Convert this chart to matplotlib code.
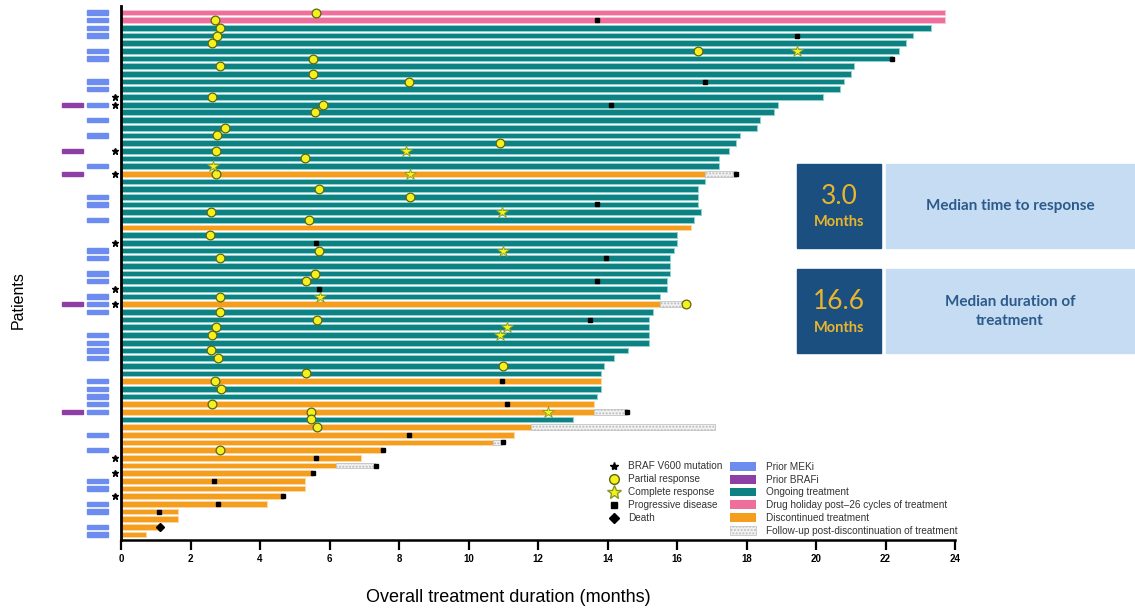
import numpy as np
import matplotlib
matplotlib.use("Agg")
import matplotlib.pyplot as plt
from matplotlib.patches import Rectangle, Patch
from matplotlib.lines import Line2D

plt.rcParams['font.family'] = ['Liberation Sans', 'DejaVu Sans']

# treatment duration per patient (months), top row first
durations = [23.7, 23.7, 23.3, 22.8, 22.6, 22.4, 22.2, 21.1, 21.0, 20.8,
             20.7, 20.2, 18.9, 18.8, 18.4, 18.3, 17.8, 17.7, 17.5, 17.2,
             17.2, 16.8, 16.8, 16.6, 16.6, 16.6, 16.7, 16.5, 16.4, 16.0,
             16.0, 15.9, 15.8, 15.8, 15.8, 15.7, 15.7, 15.5, 15.5, 15.3,
             15.2, 15.2, 15.2, 15.2, 14.6, 14.2, 13.9, 13.8, 13.8, 13.8,
             13.7, 13.6, 13.6, 13.0, 11.8, 11.3, 10.7, 7.5, 6.9, 6.2,
             5.5, 5.3, 5.3, 4.65, 4.2, 1.63, 1.63, 1.12, 0.72]
holiday_rows = [0, 1]
discontinued_rows = [21, 28, 38, 48, 51, 52] + list(range(54, 69))
followup_end = {21: 17.7, 38: 16.2, 52: 14.55, 54: 17.1, 56: 10.95, 59: 7.3}

partial_resp = [(0, 5.6), (1, 2.7), (2, 2.85), (3, 2.75), (4, 2.63), (5, 16.6),
                (6, 5.53), (7, 2.86), (8, 5.53), (9, 8.3), (11, 2.62), (12, 5.8),
                (13, 5.57), (15, 3.0), (16, 2.77), (17, 10.9), (18, 2.73), (19, 5.3),
                (21, 2.73), (23, 5.69), (24, 8.33), (26, 2.6), (27, 5.4), (29, 2.55),
                (31, 5.69), (32, 2.86), (34, 5.58), (35, 5.31), (37, 2.85), (38, 16.26),
                (39, 2.85), (40, 5.63), (41, 2.72), (42, 2.63), (44, 2.6), (45, 2.78),
                (46, 11.0), (47, 5.31), (48, 2.7), (49, 2.87), (51, 2.63), (52, 5.47),
                (53, 5.46), (54, 5.64), (57, 2.85)]
complete_resp = [(5, 19.45), (18, 8.2), (20, 2.66), (21, 8.33), (26, 10.97),
                 (31, 11.0), (37, 5.72), (41, 11.1), (42, 10.9), (52, 12.3)]
progression = [(1, 13.7), (3, 19.45), (6, 22.2), (9, 16.8), (12, 14.1), (21, 17.7),
               (25, 13.7), (30, 5.6), (32, 13.95), (35, 13.7), (36, 5.69), (40, 13.5),
               (48, 10.97), (51, 11.1), (52, 14.57), (55, 8.29), (56, 11.0), (57, 7.55),
               (58, 5.6), (59, 7.34), (60, 5.53), (61, 2.68), (63, 4.65), (64, 2.78),
               (65, 1.1)]
deaths = [(67, 1.12)]

prior_meki = [0, 1, 2, 3, 5, 6, 9, 10, 12, 14, 16, 20, 24, 25, 27, 31, 32, 34, 35,
              37, 38, 39, 42, 43, 44, 45, 48, 49, 50, 51, 52, 55, 57, 61, 62, 64,
              65, 67, 68]
prior_brafi = [12, 18, 21, 38, 52]
braf_v600 = [11, 12, 18, 21, 30, 36, 38, 58, 60, 63]

median_response = "3.0"
median_duration = "16.6"

C_TEAL = '#0e8282'
C_PINK = '#ef6f9c'
C_ORANGE = '#f59d1c'
C_BLUE = '#6d8cf0'
C_PURPLE = '#8e3fa6'
C_YELLOW = '#f5f01e'
C_OLIVE = '#5b6512'

W, H = 1135, 615
fig = plt.figure(figsize=(W / 100, H / 100), dpi=100)
ax = fig.add_axes([121 / W, 1 - 540 / H, 834 / W, 534 / H])

rows = np.arange(len(durations))
colors = []
for i in rows:
    if i in holiday_rows:
        colors.append(C_PINK)
    elif i in discontinued_rows:
        colors.append(C_ORANGE)
    else:
        colors.append(C_TEAL)
edge = ['#f7c4d6' if c == C_PINK else '#fbd9a6' if c == C_ORANGE else '#8fd2d2' for c in colors]
ax.barh(rows, durations, height=0.74, color=colors, edgecolor=edge, linewidth=0.7, zorder=2)

# follow-up after stopping treatment
for r, end in followup_end.items():
    ax.barh(r, end - durations[r], left=durations[r], height=0.74, color='#f2f2f2',
            edgecolor='#bcbcbc', hatch='.....', linewidth=0.5, zorder=2)

# prior therapy markers left of the axis
for r in prior_meki:
    ax.add_patch(Rectangle((-0.99, r - 0.28), 0.62, 0.56, color=C_BLUE, clip_on=False, zorder=3))
for r in prior_brafi:
    ax.add_patch(Rectangle((-1.71, r - 0.28), 0.62, 0.56, color=C_PURPLE, clip_on=False, zorder=3))
ax.plot([-0.17] * len(braf_v600), braf_v600, '*', color='black', ms=5, clip_on=False, zorder=4)

pr = np.array(partial_resp)
ax.plot(pr[:, 1], pr[:, 0], 'o', ms=6.3, mfc=C_YELLOW, mec=C_OLIVE, mew=0.9, zorder=5)
cr = np.array(complete_resp)
ax.plot(cr[:, 1], cr[:, 0], '*', ms=9, mfc=C_YELLOW, mec='#8a9a20', mew=0.6, zorder=5)
pd_ = np.array(progression)
ax.plot(pd_[:, 1], pd_[:, 0], 's', ms=3.4, color='black', zorder=6)
dd = np.array(deaths)
ax.plot(dd[:, 1], dd[:, 0], 'D', ms=4.5, color='black', zorder=6)

ax.set_xlim(0, 24)
ax.set_ylim(68.7, -0.85)
ax.set_xticks(np.arange(0, 25, 2))
ax.set_yticks([])
for s in ['top', 'right']:
    ax.spines[s].set_visible(False)
ax.spines['left'].set_linewidth(2)
ax.spines['bottom'].set_linewidth(1.8)
ax.tick_params(axis='x', direction='out', length=7, width=1.6, labelsize=7, pad=3)
for lab in ax.get_xticklabels():
    lab.set_fontweight('bold')

fig.text(508 / W, 1 - 597 / H, 'Overall treatment duration (months)', ha='center', va='center', fontsize=13)
fig.text(18 / W, 1 - 300 / H, 'Patients', ha='center', va='center', rotation=90, fontsize=11.5)

# legends
mk_handles = [
    Line2D([], [], ls='', marker='*', color='black', ms=6),
    Line2D([], [], ls='', marker='o', mfc=C_YELLOW, mec=C_OLIVE, ms=7),
    Line2D([], [], ls='', marker='*', mfc=C_YELLOW, mec='#8a9a20', ms=10),
    Line2D([], [], ls='', marker='s', color='black', ms=5),
    Line2D([], [], ls='', marker='D', color='black', ms=5),
]
mk_labels = ['BRAF V600 mutation', 'Partial response', 'Complete response',
             'Progressive disease', 'Death']
fig.legend(mk_handles, mk_labels, loc='upper left', bbox_to_anchor=(603 / W, 1 - 456 / H),
           frameon=False, fontsize=7.2, handlelength=1.2, labelspacing=0.3,
           handletextpad=0.8, borderpad=0, labelcolor='#333333')
patch_handles = [
    Patch(facecolor=C_BLUE), Patch(facecolor=C_PURPLE), Patch(facecolor=C_TEAL),
    Patch(facecolor=C_PINK), Patch(facecolor=C_ORANGE),
    Patch(facecolor='#f2f2f2', edgecolor='#c0c0c0', hatch='.....', linewidth=0.5),
]
patch_labels = ['Prior MEKi', 'Prior BRAFi', 'Ongoing treatment',
                'Drug holiday post\u201326 cycles of treatment', 'Discontinued treatment',
                'Follow-up post-discontinuation of treatment']
fig.legend(patch_handles, patch_labels, loc='upper left', bbox_to_anchor=(725 / W, 1 - 457 / H),
           frameon=False, fontsize=7.2, handlelength=2.6, handleheight=1.0, labelspacing=0.27,
           handletextpad=1.0, borderpad=0, labelcolor='#333333')

# summary boxes
def box(x0, y0, x1, y1, color):
    fig.patches.append(Rectangle((x0 / W, 1 - y1 / H), (x1 - x0) / W, (y1 - y0) / H,
                                 transform=fig.transFigure, color=color, zorder=0))

for (y0, y1, val, desc) in [(163.5, 247.5, median_response, 'Median time to response'),
                            (268.5, 352.5, median_duration, 'Median duration of\ntreatment')]:
    box(797, y0, 881, y1, '#1a4f80')
    box(886, y0, 1135, y1, '#c6dcf2')
    yc = (y0 + y1) / 2
    fig.text(839 / W, 1 - (yc - 9) / H, val, ha='center', va='center', fontsize=19,
             color='#e9b52c', family='Lato')
    fig.text(839 / W, 1 - (yc + 17) / H, 'Months', ha='center', va='center', fontsize=10.5,
             color='#e9b52c', fontweight='bold', family='Lato')
    fig.text(1010 / W, 1 - (yc + 1) / H, desc, ha='center', va='center', fontsize=11,
             color='#2b5b8c', fontweight='bold', family='Lato', linespacing=1.4)

fig.savefig('out.png', dpi=100)
